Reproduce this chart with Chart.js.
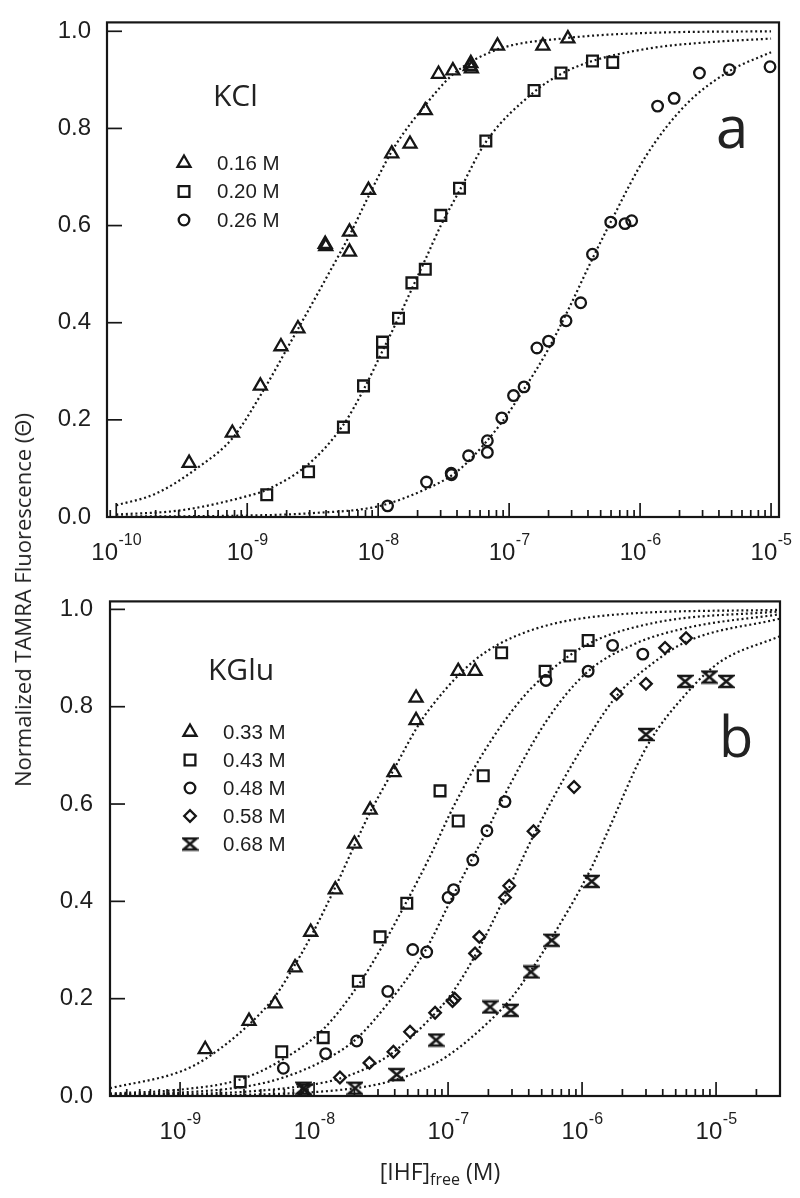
<!DOCTYPE html>
<html><head><meta charset="utf-8">
<script src="https://cdn.jsdelivr.net/npm/chart.js@4.4.1/dist/chart.umd.min.js"></script>
<style>
html,body{margin:0;padding:0;background:#fff;}
#wrap{position:relative;width:800px;height:1198px;overflow:hidden;background:#fff;}
canvas{position:absolute;left:0;}
#c1{top:0;} #c2{top:578px;}
#ytitle{position:absolute;left:22px;top:600px;transform:translate(-50%,-50%) rotate(-90deg);white-space:nowrap;font-family:'Open Sans',sans-serif;font-size:22px;line-height:28px;color:#222;}
#xtitle{position:absolute;left:440px;top:1156px;transform:translateX(-50%);white-space:nowrap;font-family:'Open Sans',sans-serif;font-size:23px;line-height:30px;color:#222;}
#xtitle sub{font-size:16px;vertical-align:baseline;position:relative;top:5px;}
</style></head><body>
<div id="wrap">
<canvas id="c1" width="800" height="578"></canvas>
<canvas id="c2" width="800" height="620"></canvas>
<div id="ytitle">Normalized TAMRA Fluorescence (Θ)</div>
<div id="xtitle">[IHF]<sub>free</sub> (M)</div>
</div>
<script>
// ---------- tick labels ----------
const yTickValues = [0, 0.2, 0.4, 0.6, 0.8, 1.0];
const xTickExpA = [-10, -9, -8, -7, -6, -5];
const xTickExpB = [-9, -8, -7, -6, -5];

// ---------- panel a (KCl) ----------
const kclTitle = 'KCl';
const kclSalts = ['0.16 M', '0.20 M', '0.26 M'];

const kcl016X = [3.6e-10, 7.7e-10, 1.26e-9, 1.81e-9, 2.44e-9, 3.94e-9, 3.98e-9, 6.04e-9, 6.04e-9, 8.43e-9, 1.27e-8, 1.75e-8, 2.29e-8, 2.89e-8, 3.72e-8, 5.1e-8, 5.15e-8, 5.05e-8, 8.15e-8, 1.81e-7, 2.81e-7];
const kcl016Y = [0.111, 0.173, 0.270, 0.351, 0.388, 0.562, 0.557, 0.587, 0.546, 0.673, 0.748, 0.768, 0.837, 0.912, 0.919, 0.934, 0.923, 0.928, 0.970, 0.970, 0.985];

const kcl020X = [1.41e-9, 2.94e-9, 5.43e-9, 7.73e-9, 1.08e-8, 1.08e-8, 1.43e-8, 1.81e-8, 2.29e-8, 3.01e-8, 4.18e-8, 6.64e-8, 1.55e-7, 2.49e-7, 4.33e-7, 6.18e-7];
const kcl020Y = [0.046, 0.093, 0.185, 0.270, 0.360, 0.339, 0.409, 0.482, 0.510, 0.621, 0.677, 0.774, 0.878, 0.914, 0.939, 0.936];

const kcl026X = [1.18e-8, 2.34e-8, 3.61e-8, 3.63e-8, 4.9e-8, 6.82e-8, 6.82e-8, 8.79e-8, 1.08e-7, 1.3e-7, 1.63e-7, 2.0e-7, 2.72e-7, 3.52e-7, 4.33e-7, 5.97e-7, 7.67e-7, 8.63e-7, 1.36e-6, 1.82e-6, 2.84e-6, 4.81e-6, 9.82e-6];
const kcl026Y = [0.023, 0.072, 0.090, 0.087, 0.126, 0.157, 0.133, 0.204, 0.250, 0.268, 0.348, 0.362, 0.404, 0.441, 0.541, 0.607, 0.604, 0.610, 0.846, 0.862, 0.914, 0.921, 0.927];

// fitted curves
const kclFit016X = [1e-10, 2e-10, 4.37e-10, 7.76e-10, 1.26e-9, 2.25e-9, 4.07e-9, 6.04e-9, 8.43e-9, 1.31e-8, 2.29e-8, 3.76e-8, 8.05e-8, 2.75e-7, 1.26e-6, 1e-5];
const kclFit016Y = [0.024, 0.048, 0.105, 0.163, 0.250, 0.370, 0.495, 0.580, 0.660, 0.759, 0.848, 0.912, 0.962, 0.986, 0.997, 1.000];
const kclFit020X = [1e-10, 3.16e-10, 1e-9, 1.41e-9, 2.94e-9, 5.43e-9, 7.73e-9, 1.08e-8, 1.43e-8, 1.81e-8, 2.29e-8, 3.01e-8, 4.18e-8, 6.64e-8, 1.55e-7, 2.49e-7, 4.33e-7, 1.26e-6, 3.16e-6, 1e-5];
const kclFit020Y = [0.005, 0.014, 0.043, 0.056, 0.109, 0.190, 0.262, 0.342, 0.410, 0.470, 0.530, 0.600, 0.672, 0.772, 0.875, 0.912, 0.939, 0.966, 0.977, 0.985];
const kclFit026X = [1e-10, 1e-9, 3.16e-9, 1e-8, 2.34e-8, 3.61e-8, 4.9e-8, 8.79e-8, 1.29e-7, 1.94e-7, 2.75e-7, 4.33e-7, 5.9e-7, 1.12e-6, 2.26e-6, 4.81e-6, 1e-5];
const kclFit026Y = [0.001, 0.003, 0.008, 0.022, 0.058, 0.085, 0.115, 0.195, 0.262, 0.340, 0.420, 0.532, 0.605, 0.745, 0.850, 0.918, 0.957];

// ---------- panel b (KGlu) ----------
const kgluTitle = 'KGlu';
const kgluSalts = ['0.33 M', '0.43 M', '0.48 M', '0.58 M', '0.68 M'];

const kglu033X = [1.54e-9, 3.27e-9, 5.12e-9, 7.21e-9, 9.44e-9, 1.44e-8, 2.0e-8, 2.62e-8, 3.95e-8, 5.77e-8, 5.77e-8, 1.19e-7, 1.59e-7];
const kglu033Y = [0.096, 0.154, 0.190, 0.264, 0.337, 0.424, 0.518, 0.588, 0.665, 0.772, 0.818, 0.873, 0.873];

const kglu043X = [2.81e-9, 5.74e-9, 1.17e-8, 2.14e-8, 3.11e-8, 4.92e-8, 8.71e-8, 1.19e-7, 1.83e-7, 2.51e-7, 5.3e-7, 8.13e-7, 1.11e-6];
const kglu043Y = [0.029, 0.091, 0.120, 0.236, 0.327, 0.396, 0.627, 0.565, 0.658, 0.911, 0.873, 0.904, 0.936];

const kglu048X = [5.9e-9, 1.22e-8, 2.08e-8, 3.55e-8, 5.45e-8, 6.93e-8, 1.0e-7, 1.1e-7, 1.53e-7, 1.95e-7, 2.66e-7, 5.38e-7, 1.11e-6, 1.69e-6, 2.84e-6];
const kglu048Y = [0.057, 0.087, 0.113, 0.215, 0.301, 0.296, 0.408, 0.424, 0.485, 0.545, 0.605, 0.854, 0.873, 0.926, 0.908];

const kglu058X = [1.56e-8, 2.59e-8, 3.91e-8, 5.2e-8, 8.0e-8, 1.08e-7, 1.12e-7, 1.59e-7, 1.71e-7, 2.66e-7, 2.86e-7, 4.34e-7, 8.71e-7, 1.81e-6, 3.0e-6, 4.16e-6, 5.97e-6];
const kglu058Y = [0.038, 0.068, 0.091, 0.132, 0.171, 0.195, 0.200, 0.293, 0.327, 0.408, 0.432, 0.544, 0.635, 0.826, 0.847, 0.921, 0.941];

const kglu068X = [8.32e-9, 8.5e-9, 2.02e-8, 4.14e-8, 8.13e-8, 2.06e-7, 2.94e-7, 4.16e-7, 5.94e-7, 1.18e-6, 3.0e-6, 5.87e-6, 8.91e-6, 1.19e-5];
const kglu068Y = [0.016, 0.012, 0.016, 0.044, 0.115, 0.183, 0.176, 0.255, 0.320, 0.441, 0.743, 0.852, 0.861, 0.852];

const kgluFit033X = [3e-10, 1e-9, 1.54e-9, 3.27e-9, 5.12e-9, 7.21e-9, 9.44e-9, 1.44e-8, 2e-8, 2.62e-8, 3.95e-8, 6e-8, 7.35e-8, 1.23e-7, 1.95e-7, 4.59e-7, 1.92e-6, 3e-5];
const kgluFit033Y = [0.016, 0.050, 0.076, 0.147, 0.205, 0.270, 0.327, 0.429, 0.515, 0.583, 0.672, 0.762, 0.797, 0.868, 0.914, 0.961, 0.990, 0.999];
const kgluFit043X = [3e-10, 1e-9, 2.81e-9, 5.74e-9, 1.17e-8, 2.14e-8, 3.11e-8, 4.92e-8, 7.35e-8, 1.1e-7, 1.83e-7, 3.44e-7, 5.46e-7, 1.08e-6, 3.4e-6, 3e-5];
const kgluFit043Y = [0.005, 0.013, 0.034, 0.074, 0.137, 0.228, 0.300, 0.400, 0.493, 0.595, 0.705, 0.812, 0.868, 0.927, 0.972, 0.996];
const kgluFit048X = [3e-10, 1e-9, 3.16e-9, 5.9e-9, 1.22e-8, 2.08e-8, 3.55e-8, 5.45e-8, 7.13e-8, 1.05e-7, 1.53e-7, 1.95e-7, 2.66e-7, 5.46e-7, 1.08e-6, 2.42e-6, 6.04e-6, 3e-5];
const kgluFit048Y = [0.003, 0.007, 0.020, 0.038, 0.075, 0.118, 0.190, 0.258, 0.310, 0.403, 0.490, 0.545, 0.620, 0.772, 0.870, 0.928, 0.962, 0.990];
const kgluFit058X = [3e-10, 1e-9, 3.16e-9, 1e-8, 1.56e-8, 2.59e-8, 3.91e-8, 6.93e-8, 1.08e-7, 1.64e-7, 2.66e-7, 4.34e-7, 8.71e-7, 1.81e-6, 3.4e-6, 6.04e-6, 3e-5];
const kgluFit058Y = [0.002, 0.004, 0.009, 0.024, 0.036, 0.060, 0.090, 0.152, 0.213, 0.295, 0.410, 0.535, 0.688, 0.822, 0.890, 0.934, 0.981];
const kgluFit068X = [3e-10, 1e-9, 1e-8, 2.51e-8, 4.14e-8, 6.18e-8, 1e-7, 2.06e-7, 2.94e-7, 4.16e-7, 5.94e-7, 1.18e-6, 1.49e-6, 3.04e-6, 6.04e-6, 1.07e-5, 3e-5];
const kgluFit068Y = [0.000, 0.001, 0.008, 0.020, 0.034, 0.052, 0.083, 0.155, 0.200, 0.258, 0.325, 0.470, 0.532, 0.718, 0.828, 0.892, 0.945];

// ---------- helpers ----------
const INK = '#161616';
const TICK_FONT = '"Liberation Sans", Arial, Helvetica, sans-serif';
const zip = (xs, ys) => xs.map((x, i) => ({x, y: ys[i]}));

const hourglass = (() => {
  const c = document.createElement('canvas');
  c.width = 17; c.height = 15;
  const g = c.getContext('2d');
  g.strokeStyle = INK; g.lineWidth = 2.5; g.lineJoin = 'miter';
  g.beginPath(); g.moveTo(2, 2); g.lineTo(15, 2); g.lineTo(2, 13); g.lineTo(15, 13); g.closePath(); g.stroke();
  return c;
})();

const STYLE = {
  triangle: {pointStyle: 'triangle', radius: 7.5},
  rect: {pointStyle: 'rect', radius: 7.6},
  circle: {pointStyle: 'circle', radius: 5.3},
  rectRot: {pointStyle: 'rectRot', radius: 5.8},
  hourglass: {pointStyle: hourglass, radius: 7}
};

function markerSet(label, xs, ys, st) {
  return {label, data: zip(xs, ys), showLine: false, pointStyle: st.pointStyle, pointRadius: st.radius,
    pointBorderWidth: 2.3, pointBorderColor: INK, pointBackgroundColor: 'rgba(0,0,0,0)', order: 1};
}
function fitSet(label, xs, ys) {
  return {label, data: zip(xs, ys), showLine: true, pointRadius: 0, borderColor: INK, borderWidth: 2.2,
    borderDash: [2, 2.8], borderCapStyle: 'butt', cubicInterpolationMode: 'monotone', fill: false, order: 2};
}

const decor = {
  id: 'decor',
  afterDatasetsDraw(chart, args, o) {
    const {ctx, chartArea: ca, scales: {x, y}} = chart;
    ctx.save();
    ctx.strokeStyle = INK; ctx.fillStyle = INK;
    ctx.lineWidth = 1.7;
    const seg = (x1, y1, x2, y2) => { ctx.beginPath(); ctx.moveTo(x1, y1); ctx.lineTo(x2, y2); ctx.stroke(); };
    yTickValues.forEach(v => { const py = y.getPixelForValue(v); seg(ca.left, py, ca.left + 15, py); });
    const lo = Math.floor(Math.log10(x.min)), hi = Math.ceil(Math.log10(x.max));
    for (let d = lo; d <= hi; d++) {
      for (let m = 1; m <= 9; m++) {
        const v = m * Math.pow(10, d);
        if (v < x.min || v > x.max) continue;
        const px = x.getPixelForValue(v);
        seg(px, ca.bottom, px, ca.bottom - (m === 1 ? 14 : 7));
      }
    }
    ctx.lineWidth = 2.2;
    ctx.strokeRect(ca.left, ca.top, ca.right - ca.left, ca.bottom - ca.top);
    // x tick labels: 10 with superscript exponent
    ctx.textBaseline = 'alphabetic'; ctx.textAlign = 'left';
    ctx.fillStyle = '#1e1e1e';
    o.exps.forEach(e => {
      const px = x.getPixelForValue(Math.pow(10, e));
      ctx.font = '24px ' + TICK_FONT;
      const w1 = ctx.measureText('10').width;
      ctx.font = '16px ' + TICK_FONT;
      const sup = String(e);
      const w2 = ctx.measureText(sup).width;
      const x0 = px - (w1 + w2) / 2;
      ctx.font = '24px ' + TICK_FONT;
      ctx.fillText('10', x0, ca.bottom + 43);
      ctx.font = '16px ' + TICK_FONT;
      ctx.fillText(sup, x0 + w1 + 0.5, ca.bottom + 28);
    });
    // salt title
    ctx.font = '30px "Open Sans", sans-serif';
    ctx.fillStyle = '#222';
    ctx.fillText(o.title, o.titleX, o.titleY);
    // panel letter
    ctx.font = o.letterFont;
    ctx.fillText(o.letter, o.letterX, o.letterY);
    // legend
    ctx.font = '20.5px ' + TICK_FONT;
    ctx.textBaseline = 'middle';
    const sets = chart.data.datasets.filter(d => !d.showLine);
    sets.forEach((d, i) => {
      const yy = o.legY + i * o.legStep;
      ctx.save();
      ctx.strokeStyle = INK; ctx.fillStyle = 'rgba(0,0,0,0)'; ctx.lineWidth = 2.3;
      Chart.helpers.drawPoint(ctx, {pointStyle: d.pointStyle, radius: d.pointRadius, borderWidth: 2.3, rotation: 0}, o.legX, yy);
      ctx.restore();
      ctx.fillStyle = '#1e1e1e';
      ctx.fillText(d.label, o.legX + 33, yy + 1);
    });
    ctx.restore();
  }
};

function makeChart(id, datasets, o) {
  return new Chart(document.getElementById(id), {
    type: 'scatter',
    data: {datasets},
    options: {
      responsive: false, animation: false, devicePixelRatio: 1, events: [],
      layout: {padding: {left: 0, top: o.top, right: o.right, bottom: 0}},
      plugins: {legend: {display: false}, tooltip: {enabled: false}, decor: o.decor},
      scales: {
        x: {type: 'logarithmic', min: o.xmin, max: o.xmax,
          grid: {display: false}, border: {display: false}, ticks: {display: false},
          afterFit: s => { s.height = o.xh; }},
        y: {type: 'linear', min: 0, max: o.ymax,
          grid: {display: false}, border: {display: false},
          afterBuildTicks: s => { s.ticks = yTickValues.map(v => ({value: v})); },
          ticks: {padding: o.ypad, color: '#1e1e1e', font: {family: TICK_FONT, size: 24},
            callback: v => Number(v).toFixed(1)},
          afterFit: s => { s.width = o.yw; }}
      }
    },
    plugins: [decor]
  });
}

makeChart('c1', [
  markerSet(kclSalts[0], kcl016X, kcl016Y, STYLE.triangle),
  markerSet(kclSalts[1], kcl020X, kcl020Y, STYLE.rect),
  markerSet(kclSalts[2], kcl026X, kcl026Y, STYLE.circle),
  fitSet('fit 0.16 M', kclFit016X, kclFit016Y),
  fitSet('fit 0.20 M', kclFit020X, kclFit020Y),
  fitSet('fit 0.26 M', kclFit026X, kclFit026Y)
], {top: 16, right: 21, xh: 61, yw: 107, ypad: 8, xmin: 8.5e-11, xmax: 1.15e-5, ymax: 1.0183,
  decor: {exps: xTickExpA, title: kclTitle, titleX: 213, titleY: 106, letter: 'a', letterX: 716, letterY: 148,
    letterFont: '58px "Open Sans", sans-serif', legX: 184, legY: 163, legStep: 28.5}});

makeChart('c2', [
  markerSet(kgluSalts[0], kglu033X, kglu033Y, STYLE.triangle),
  markerSet(kgluSalts[1], kglu043X, kglu043Y, STYLE.rect),
  markerSet(kgluSalts[2], kglu048X, kglu048Y, STYLE.circle),
  markerSet(kgluSalts[3], kglu058X, kglu058Y, STYLE.rectRot),
  markerSet(kgluSalts[4], kglu068X, kglu068Y, STYLE.hourglass),
  fitSet('fit 0.33 M', kgluFit033X, kgluFit033Y),
  fitSet('fit 0.43 M', kgluFit043X, kgluFit043Y),
  fitSet('fit 0.48 M', kgluFit048X, kgluFit048Y),
  fitSet('fit 0.58 M', kgluFit058X, kgluFit058Y),
  fitSet('fit 0.68 M', kgluFit068X, kgluFit068Y)
], {top: 22, right: 20, xh: 102, yw: 110, ypad: 9, xmin: 3e-10, xmax: 3e-5, ymax: 1.0164,
  decor: {exps: xTickExpB, title: kgluTitle, titleX: 208, titleY: 102, letter: 'b', letterX: 719, letterY: 179,
    letterFont: '56px "Open Sans", sans-serif', legX: 190, legY: 154, legStep: 28}});
</script>
</body></html>
